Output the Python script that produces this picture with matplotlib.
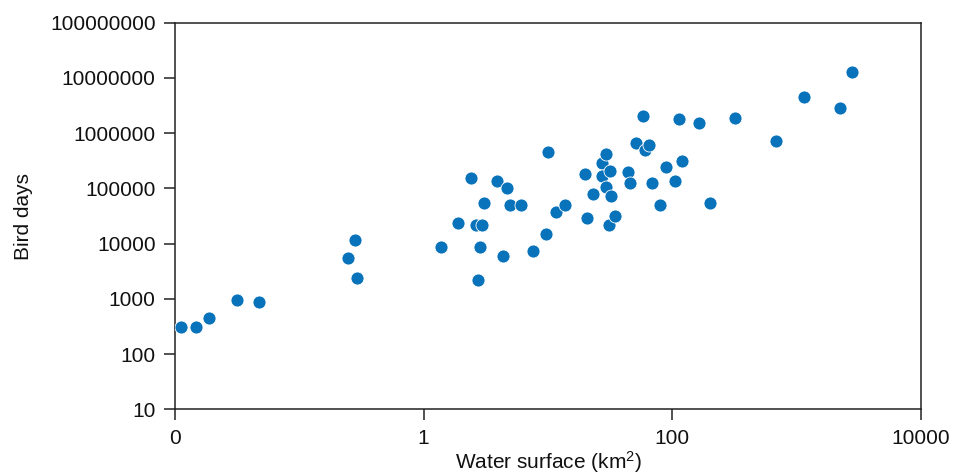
import matplotlib
matplotlib.use("Agg")
import matplotlib.pyplot as plt
from matplotlib.ticker import FixedLocator, FixedFormatter, NullLocator

plt.rcParams['font.family'] = ['Liberation Sans', 'DejaVu Sans']
plt.rcParams['mathtext.fontset'] = 'custom'
plt.rcParams['mathtext.rm'] = 'Liberation Sans'
plt.rcParams['mathtext.it'] = 'Liberation Sans'
plt.rcParams['mathtext.default'] = 'regular'

# Water surface (km2) of each wetland site
water_surface = [
    0.0111, 0.0147, 0.0188, 0.0315, 0.0477,
    0.245, 0.281, 0.291,
    1.38, 1.89, 2.40, 2.64, 2.97, 2.86, 2.75, 3.06, 3.92, 4.66, 4.33,
    4.96, 6.11, 7.55, 9.6, 9.96, 11.5, 13.6,
    19.9, 20.7, 22.9, 27.4, 27.4, 29.2, 29.2, 31.4, 31.2, 32.4, 34.7,
    44.1, 45.7, 50.8, 58.2, 60.4, 65.0, 69.2, 79.8, 88.7, 105, 113,
    120, 164, 201, 318, 681, 1150, 2230, 2810,
]

# Bird days counted at each site
bird_days = [
    312, 312, 453, 946, 871,
    5510, 11500, 2400,
    8610, 24100, 152000, 21800, 21800, 8610, 2180, 55300, 138000, 103000, 6000,
    50100, 50100, 7380, 15200, 455000, 38000, 50900,
    182000, 29200, 79300, 293000, 168000, 419000, 105000, 204000, 21800, 73000, 31700,
    201000, 127000, 662000, 2010000, 504000, 620000, 127000, 50100, 244000, 138000, 1830000,
    318000, 1520000, 55300, 1850000, 731000, 4570000, 2890000, 12600000,
]

x_ticks = [0.01, 1, 100, 10000]
x_tick_labels = ["0", "1", "100", "10000"]
y_ticks = [10, 100, 1000, 10000, 100000, 1000000, 10000000, 100000000]
y_tick_labels = ["10", "100", "1000", "10000", "100000", "1000000", "10000000", "100000000"]

fig = plt.figure(figsize=(9.59, 4.75), dpi=100)
ax = fig.add_axes([0.1825, 0.1383, 0.7779, 0.8139])

ax.scatter(water_surface, bird_days, s=88, color="#0872BB",
           edgecolors="white", linewidths=0.6, zorder=3)

ax.set_xscale("log")
ax.set_yscale("log")
ax.set_xlim(0.01, 10000)
ax.set_ylim(10, 100000000)

ax.xaxis.set_major_locator(FixedLocator(x_ticks))
ax.xaxis.set_major_formatter(FixedFormatter(x_tick_labels))
ax.yaxis.set_major_locator(FixedLocator(y_ticks))
ax.yaxis.set_major_formatter(FixedFormatter(y_tick_labels))
ax.xaxis.set_minor_locator(NullLocator())
ax.yaxis.set_minor_locator(NullLocator())

ax.tick_params(axis="both", which="major", direction="out", length=8,
               width=1.1, color="#222222", labelsize=15, pad=6, labelcolor="#111111")
for sp in ax.spines.values():
    sp.set_linewidth(1.1)
    sp.set_color("#222222")

ax.set_xlabel("Water surface (km$^{2}$)", fontsize=15, color="#111111")
ax.xaxis.set_label_coords(0.5, -0.104)
ax.set_ylabel("Bird days", fontsize=15, color="#111111", labelpad=12)

fig.savefig("out.png", dpi=100)
